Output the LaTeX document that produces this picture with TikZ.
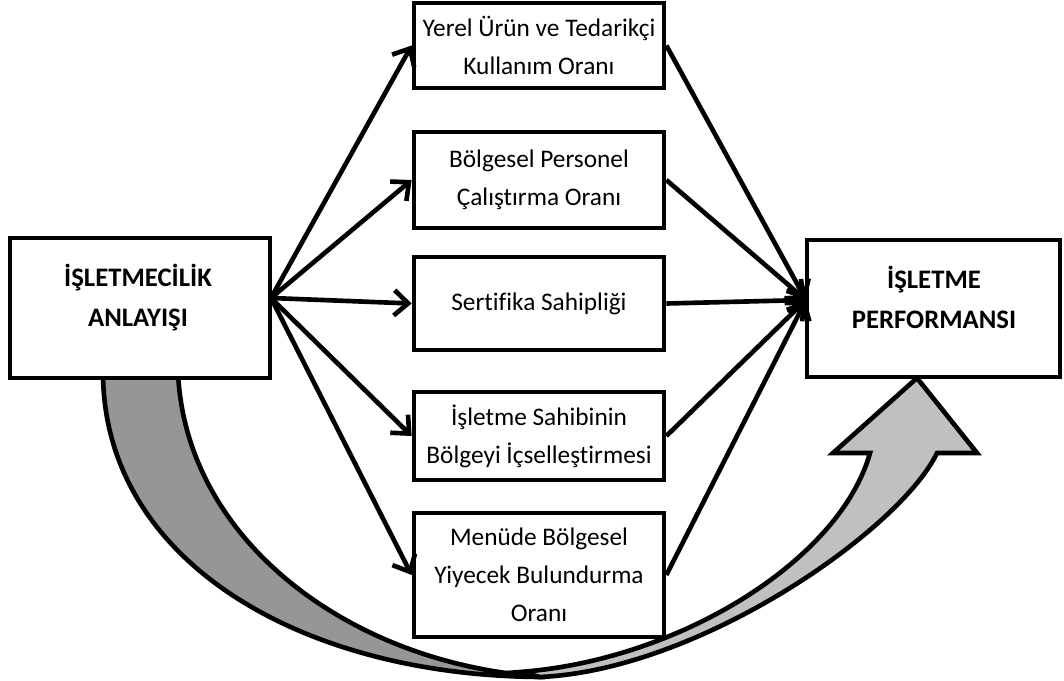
\documentclass[tikz,border=0pt]{standalone}
\usepackage{fontspec}
\setmainfont{Carlito}[Ligatures=NoCommon]
\usetikzlibrary{arrows.meta, positioning}

\definecolor{bandDark}{RGB}{150,150,150}
\definecolor{bandLight}{RGB}{192,192,192}

\tikzset{
    kutu/.style={draw, line width=3.3pt, fill=white, align=center, minimum width=6.25cm, inner sep=0pt, font=\fontsize{18}{27}\selectfont},
    buyuk/.style={draw, line width=3.3pt, fill=white, inner sep=0pt},
    baslik/.style={align=center, font=\fontsize{19}{28.5}\selectfont\bfseries},
    ok/.style={line width=3.3pt, -{Straight Barb[length=10pt,width=18pt]}}
}

\begin{document}
\begin{tikzpicture}[x=0.025cm, y=-0.025cm]
                    \useasboundingbox (0, 0) rectangle (1064, 681);

                    \filldraw[fill=bandDark, line width=3.3pt]
                    (103, 372) .. controls (103, 560) and (300, 677) .. (545, 677)
                    .. controls (350, 665) and (185, 540) .. (178, 372) -- cycle;
                    \filldraw[fill=bandLight, line width=3.3pt, line join=miter]
                    (540, 677) .. controls (700, 670) and (900, 530) .. (937, 453)
                    -- (977, 453) -- (917, 378) -- (833, 453) -- (870, 453)
                    .. controls (840, 560) and (680, 660) .. (520, 672) -- cycle;

                    \node[buyuk, minimum width=6.5cm, minimum height=3.5cm] (anlayis) at (140, 308) {};
                    \node[baslik] (anlayisYazi) at (138, 298) {İŞLETMECİLİK\\ANLAYIŞI};
                    \node[buyuk, minimum width=6.325cm, minimum height=3.425cm] (perf) at (933.5, 308.5) {};
                    \node[baslik] (perfYazi) at (934, 297) {İŞLETME\\PERFORMANSI};

                    \node[kutu, minimum height=2.125cm] (yerel) at (539, 45.5) {Yerel Ürün ve Tedarikçi\\Kullanım Oranı};
                    \node[kutu, minimum height=2.4cm] (personel) at (539, 180) {Bölgesel Personel\\Çalıştırma Oranı};
                    \node[kutu, minimum height=2.325cm] (sertifika) at (539, 303.5) {Sertifika Sahipliği};
                    \node[kutu, minimum height=2.2cm] (sahip) at (539, 436) {İşletme Sahibinin\\Bölgeyi İçselleştirmesi};
                    \node[kutu, minimum height=3.1cm] (menu) at (539, 575) {Menüde Bölgesel\\Yiyecek Bulundurma\\Oranı};

                    \coordinate (solOrta) at (271, 298);
                    \coordinate (sagOrta) at (806, 300);
                    \foreach \k in {yerel, personel, sertifika, sahip, menu} {
                        \draw[ok] (solOrta) -- (\k.west);
                        \draw[ok] (\k.east) -- (sagOrta);
                    }
                \end{tikzpicture}
\end{document}
